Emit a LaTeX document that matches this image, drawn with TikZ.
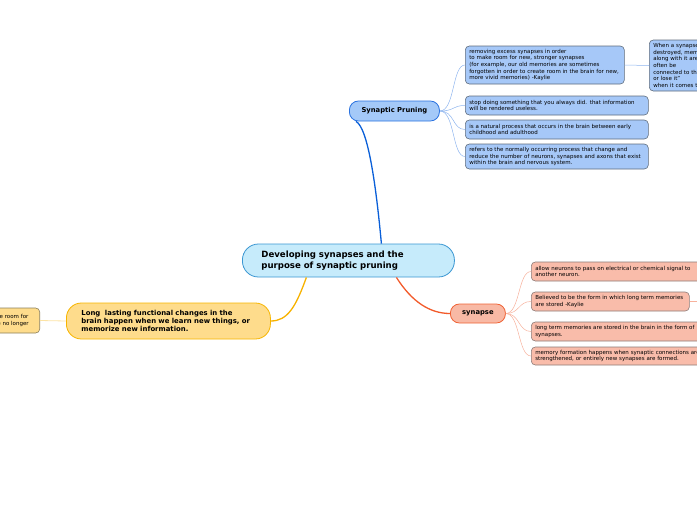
\documentclass[tikz,border=0pt]{standalone}
\usepackage{fontspec}
\setmainfont{DejaVu Sans}
\definecolor{cfill}{HTML}{C6EBFB}
\definecolor{cdraw}{HTML}{3A96D2}
\definecolor{spfill}{HTML}{A4C9F8}
\definecolor{spdraw}{HTML}{2A72E0}
\definecolor{spline}{HTML}{0A5FD8}
\definecolor{spkid}{HTML}{A6C8F8}
\definecolor{spkidline}{HTML}{8DB4EE}
\definecolor{kiddraw}{HTML}{5F6C7C}
\definecolor{syfill}{HTML}{F8B9A5}
\definecolor{sydraw}{HTML}{EF6235}
\definecolor{syline}{HTML}{F25A2A}
\definecolor{sykid}{HTML}{F9BCAA}
\definecolor{sykidline}{HTML}{F7B19C}
\definecolor{sykiddraw}{HTML}{8C7B78}
\definecolor{lofill}{HTML}{FEDC8C}
\definecolor{lodraw}{HTML}{F7B500}
\definecolor{loline}{HTML}{F7B200}
\definecolor{lokidline}{HTML}{FCE3A5}
\definecolor{lokiddraw}{HTML}{8C7F5A}
\begin{document}
\begin{tikzpicture}[x=1pt,y=-1pt,
  leaf/.style={rounded corners=4pt, line width=0.6pt, inner ysep=0pt, inner xsep=4pt,
    anchor=west, align=left, font=\fontsize{5.5}{6.6}\selectfont},
  spleaf/.style={leaf, fill=spkid, draw=kiddraw},
  syleaf/.style={leaf, fill=sykid, draw=sykiddraw},
  loleaf/.style={leaf, fill=lofill, draw=lokiddraw},
  topic/.style={rounded corners=9pt, line width=0.8pt, inner sep=0pt, anchor=west,
    align=center, font=\fontsize{6.8}{8}\bfseries\selectfont},
  centralbox/.style={rounded corners=16pt, line width=0.8pt, fill=cfill, draw=cdraw,
    inner ysep=0pt, inner xsep=19pt, anchor=west, align=left, text width=174pt,
    minimum height=33pt, font=\fontsize{8.6}{10.8}\bfseries\selectfont},
  twig/.style={line width=0.5pt},
]
\useasboundingbox (0,0) rectangle (697,520);
\clip (0,0) rectangle (697,520);

% central
\node[centralbox] (c) at (242,260.5) {Developing synapses and the\\purpose of synaptic pruning};

% Synaptic Pruning branch
\node[topic, fill=spfill, draw=spdraw, minimum width=90pt, minimum height=20pt] (sp) at (349,111) {Synaptic Pruning};
\node[spleaf, text width=151pt, minimum height=38pt] (p1) at (465,65) {removing excess synapses in order\\to make room for new, stronger synapses\\(for example, our old memories are sometimes\\forgotten in order to create room in the brain for new,\\more vivid memories) -Kaylie};
\node[spleaf, text width=175pt, minimum height=19pt] (p2) at (465,105.5) {stop doing something that you always did. that information\\will be rendered useless.};
\node[spleaf, text width=175pt, minimum height=19pt] (p3) at (465,129.5) {is a natural process that occurs in the brain between early\\childhood and adulthood};
\node[spleaf, text width=175pt, minimum height=25pt] (p4) at (465,156.5) {refers to the normally occurring process that change and\\reduce the number of neurons, synapses and axons that exist\\within the brain and nervous system.};
\node[spleaf, text width=80pt, minimum height=51pt] (p5) at (649,65.5) {When a synapse is\\destroyed, memories\\along with it are\\often be\\connected to the\\or lose it''\\when it comes to};

\draw[spline, line width=1.3pt] ([xshift=33pt]c.north) .. controls (376,185) and (368,128) .. ([xshift=7pt]sp.south west);
\foreach \k in {p1,p2,p3,p4}{
  \draw[twig, spkidline] (sp.east) .. controls (455,111) and (452,0 |- \k.west) .. (\k.west);
}
\draw[twig, spkidline] (p1.east) -- (p5.west);

% synapse branch
\node[topic, fill=syfill, draw=sydraw, minimum width=55pt, minimum height=19pt] (sy) at (450,313.5) {synapse};
\node[syleaf, text width=180pt, minimum height=19pt] (s1) at (531,271.5) {allow neurons to pass on electrical or chemical signal to\\another neuron.};
\node[syleaf, text width=150pt, minimum height=19pt] (s2) at (531,301.5) {Believed to be the form in which long term memories\\are stored -Kaylie};
\node[syleaf, text width=180pt, minimum height=19pt] (s3) at (531,331.5) {long term memories are stored in the brain in the form of\\synapses.};
\node[syleaf, text width=180pt, minimum height=18pt] (s4) at (531,356) {memory formation happens when synaptic connections are\\strengthened, or entirely new synapses are formed.};
\coordinate (s2x) at (705,301.5);

\draw[syline, line width=1.3pt] ([xshift=48pt]c.south) .. controls (412,302) and (430,313.5) .. (sy.west);
\foreach \k in {s1,s2,s3,s4}{
  \draw[twig, sykidline] (sy.east) .. controls (520,313.5) and (518,0 |- \k.west) .. (\k.west);
}
\draw[twig, sykidline] (s2.east) -- (s2x);

% long lasting branch
\node[topic, fill=lofill, draw=lodraw, rounded corners=15pt, minimum height=36pt, text width=174pt, inner xsep=15pt, align=left, font=\fontsize{6.9}{8.4}\bfseries\selectfont] (lo) at (66,321) {Long\ \ lasting functional changes in the\\brain happen when we learn new things, or\\memorize new information.};
\node[loleaf, anchor=east, minimum height=25pt, inner xsep=11pt] (l1) at (40,320.5) {synapses to make room for\\the ones that are no longer};

\draw[loline, line width=1.3pt] ([xshift=-42pt]c.south) .. controls (296,306) and (288,321) .. (lo.east);
\draw[twig, lokidline, line width=0.8pt] (lo.west) -- (l1.east);
\end{tikzpicture}
\end{document}
